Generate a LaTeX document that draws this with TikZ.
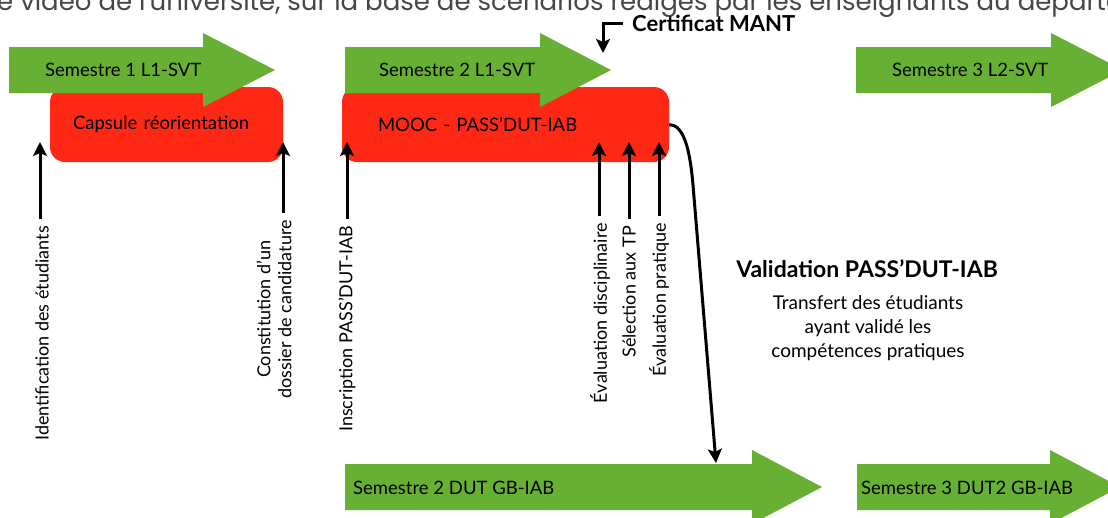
\documentclass[tikz,border=0pt]{standalone}
\usepackage{fontspec}
\setmainfont{Lato}
\newfontfamily\bandeaufont{Poppins}
\usetikzlibrary{arrows.meta}
\definecolor{vertsem}{RGB}{103,176,51}
\definecolor{rougebox}{RGB}{255,40,20}
\definecolor{grisbandeau}{RGB}{70,70,70}

\begin{document}
\begin{tikzpicture}[x=1pt,y=-1pt,
    sem/.style={fill=vertsem},
    semtxt/.style={anchor=west,inner sep=0pt,font=\fontsize{18.5}{20}\selectfont},
    boite/.style={fill=rougebox,rounded corners=15pt,minimum height=75pt,
      text width=#1,align=left,font=\fontsize{18.5}{20}\selectfont},
    fleche/.style={line width=3pt,-{Stealth[length=14pt,width=14pt,inset=3pt]}},
    lab/.style={rotate=90,anchor=east,inner sep=0pt,align=center,
      font=\fontsize{18}{21}\selectfont}]
  \useasboundingbox (0,0) rectangle (1108,517);
  \clip (0,0) rectangle (1108,517);

  % bandeau coupe en haut
  \node[font=\bandeaufont\fontsize{26}{28}\selectfont,text=grisbandeau,
    anchor=base west,inner sep=0pt] (bandeau) at (-3,10)
    {e vidéo de l'université, sur la base de scénarios rédigés par les enseignants du départe};

  % boites rouges
  \node[boite=187pt,inner xsep=23pt] (capsule) at (166.5,124.5) {Capsule réorientation};
  \node[boite=255pt,inner xsep=36pt] (mooc) at (505.5,124.5) {MOOC - PASS'DUT-IAB};

  % fleches des semestres
  \fill[sem] (9,47) -- (203,47) -- (203,33) -- (275,70) -- (203,107) -- (203,93) -- (9,93) -- cycle;
  \node[semtxt] (s1) at (45,70) {Semestre 1 L1-SVT};
  \fill[sem] (345,47) -- (540,47) -- (540,33) -- (611,70) -- (540,107) -- (540,93) -- (345,93) -- cycle;
  \node[semtxt] (s2) at (379,70) {Semestre 2 L1-SVT};
  \fill[sem] (856,47) -- (1051,47) -- (1051,33) -- (1123,70) -- (1051,107) -- (1051,93) -- (856,93) -- cycle;
  \node[semtxt] (s3) at (892,70) {Semestre 3 L2-SVT};
  \fill[sem] (345,464) -- (752,464) -- (752,450) -- (822,487) -- (752,524) -- (752,510) -- (345,510) -- cycle;
  \node[semtxt] (d2) at (353,488) {Semestre 2 DUT GB-IAB};
  \fill[sem] (857,464) -- (1050,464) -- (1050,450) -- (1120,487) -- (1050,524) -- (1050,510) -- (857,510) -- cycle;
  \node[semtxt] (d3) at (861,488) {Semestre 3 DUT2 GB-IAB};

  % etapes
  \coordinate (p1) at (40,142);
  \coordinate (p2) at (283,142);
  \coordinate (p3) at (347,142);
  \coordinate (p4) at (599,142);
  \coordinate (p5) at (629,142);
  \coordinate (p6) at (659,142);
  \node[lab] (l1) at (42,226) {Identification des étudiants};
  \node[lab] (l2) at (274,220) {Constitution d'un\\dossier de candidature};
  \node[lab] (l3) at (347,226) {Inscription PASS'DUT-IAB};
  \node[lab] (l4) at (600,223) {Évaluation disciplinaire};
  \node[lab] (l5) at (629,226) {Sélection aux TP};
  \node[lab] (l6) at (659,223) {Évaluation pratique};
  \foreach \n in {1,...,6}
    \draw[fleche,shorten <=7pt] (l\n.east -| p\n) -- (p\n);

  % certificat
  \node[anchor=west,inner sep=0pt,font=\bfseries\fontsize{22}{24}\selectfont] (cert) at (632,23) {Certificat MANT};
  \coordinate (c0) at (603,53);
  \draw[fleche,shorten <=9pt] (cert.west) -| (c0);

  % validation
  \node[font=\bfseries\fontsize{23}{25}\selectfont] (valid) at (867,269) {Validation PASS'DUT-IAB};
  \node[align=center,font=\fontsize{19}{24}\selectfont] (transf) at (868,328)
    {Transfert des étudiants\\ayant validé les\\compétences pratiques};
  \coordinate (dut) at (716,463);
  \draw[fleche] (mooc.east) .. controls (684,125) and (690,150) .. (693,185) -- (dut);
\end{tikzpicture}
\end{document}
